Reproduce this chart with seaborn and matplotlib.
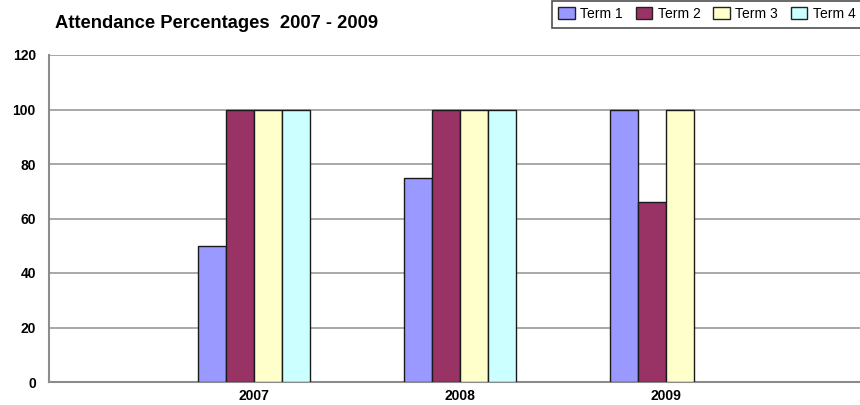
import matplotlib
matplotlib.use("Agg")
import matplotlib.pyplot as plt
import seaborn as sns
import pandas as pd
import numpy as np

# Attendance data per school year and term
years = ["2007", "2008", "2009"]
terms = ["Term 1", "Term 2", "Term 3", "Term 4"]
term1 = [50, 75, 100]
term2 = [100, 100, 66]
term3 = [100, 100, 100]
term4 = [100, 100, np.nan]

colors = {"Term 1": "#9999FF", "Term 2": "#993366",
          "Term 3": "#FFFFCC", "Term 4": "#CCFFFF"}

rows = []
for t, vals in zip(terms, [term1, term2, term3, term4]):
    for y, v in zip(years, vals):
        if not np.isnan(v):
            rows.append({"Year": y, "Term": t, "Attendance": v})
df = pd.DataFrame(rows)

sns.set_style("white")
plt.rcParams["font.family"] = ["Liberation Sans", "DejaVu Sans"]
plt.rcParams["text.color"] = "black"
plt.rcParams["xtick.labelcolor"] = "black"
plt.rcParams["ytick.labelcolor"] = "black"

fig = plt.figure(figsize=(8.6, 4.05), dpi=100)
W, H = 860, 405
ax = fig.add_axes([49 / W, 1 - 382 / H, (860 - 49) / W, (382 - 55) / H])

sns.barplot(data=df, x="Year", y="Attendance", hue="Term", order=years,
            hue_order=terms, palette=colors, saturation=1, width=0.545,
            gap=0, edgecolor="#1a1a1a", linewidth=1.0, ax=ax, zorder=3)

ax.set_xlim(-0.995, 2.942)
ax.set_ylim(0, 120)
ax.set_yticks(np.arange(0, 121, 20))
ax.yaxis.grid(True, color="#a8a8a8", linewidth=1.4, zorder=0)
ax.set_axisbelow(True)
ax.set_xlabel("")
ax.set_ylabel("")

for side in ("top", "right"):
    ax.spines[side].set_visible(False)
for side in ("left", "bottom"):
    ax.spines[side].set_color("#8c8c8c")
    ax.spines[side].set_linewidth(1.5)

ax.tick_params(axis="y", length=6.5, width=1.2, color="#8c8c8c", pad=3,
               labelsize=10, labelcolor="black")
ax.tick_params(axis="x", length=3, width=1.0, color="#333333", pad=2,
               labelsize=10, labelcolor="black")
for lbl in ax.get_yticklabels() + ax.get_xticklabels():
    lbl.set_fontweight("bold")

fig.text(55 / W, 1 - 28 / H, "Attendance Percentages  2007 - 2009",
         fontsize=13.2, fontweight="bold", va="baseline", ha="left",
         color="black")

handles, labels = ax.get_legend_handles_labels()
ax.get_legend().remove()
leg = fig.legend(handles, labels, loc="upper left",
                 bbox_to_anchor=(552 / W, 1 - 1 / H), ncol=4, fontsize=10,
                 frameon=True, fancybox=False, shadow=False,
                 handlelength=1.2, handleheight=0.95, handletextpad=0.4,
                 columnspacing=0.9, borderpad=0.45, borderaxespad=0)
leg.get_frame().set_edgecolor("#222222")
leg.get_frame().set_linewidth(1.2)
for p in leg.get_patches():
    p.set_edgecolor("#222222")
    p.set_linewidth(1.0)

fig.savefig("out.png", dpi=100)
